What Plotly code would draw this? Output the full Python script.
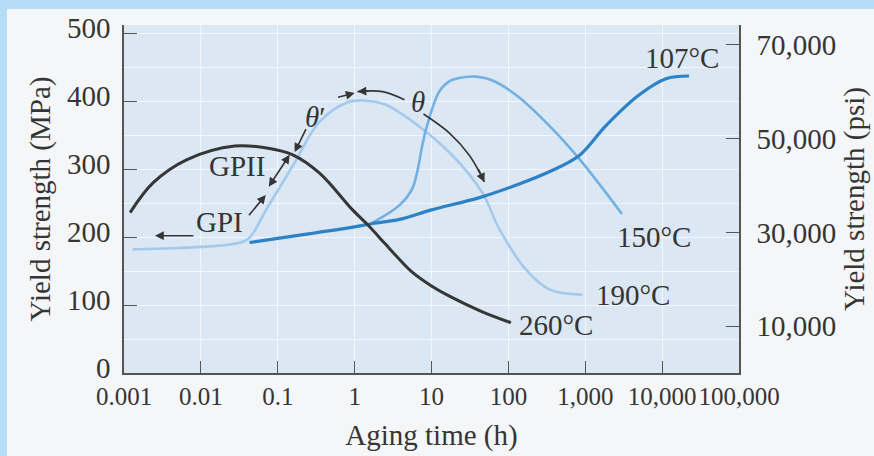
import math
import plotly.graph_objects as go

# ---------------- data ----------------
time_ticks = [0.001, 0.01, 0.1, 1, 10, 100, 1000, 10000, 100000]
time_tick_labels = ["0.001", "0.01", "0.1", "1", "10", "100", "1,000", "10,000", "100,000"]
mpa_ticks = [0, 100, 200, 300, 400, 500]
psi_ticks = [10000, 30000, 50000, 70000]
psi_tick_labels = ["10,000", "30,000", "50,000", "70,000"]
MPA_MAX = 512
PSI_PER_MPA = 145.038

# 260 °C
t_260 = [0.0012, 0.0024, 0.0066, 0.0276, 0.072, 0.157, 0.35, 0.94, 1.48, 2.5, 3.84, 5.66, 10, 17.1, 45.8, 108]
y_260 = [236, 280, 314, 334, 331, 321, 294, 240, 218, 190, 167, 148, 128, 113, 90, 74]
# 190 °C
t_190 = [0.0013, 0.005, 0.012, 0.0238, 0.041, 0.0713, 0.157, 0.351, 0.8, 1.3, 2.5, 5.66, 18.7, 46, 76, 170, 340, 913]
y_190 = [182, 184, 186, 189, 197, 241, 305, 370, 398, 401, 395, 370, 320, 265, 212, 152, 123, 115]
# 150 °C
t_150 = [1.7, 3.84, 5.66, 7.6, 8.5, 12.6, 17, 23, 38, 60, 126, 340, 837, 3000]
y_150 = [221, 247, 272, 335, 359, 414, 429, 434, 436, 431, 409, 364, 315, 234]
# 107 °C
t_107 = [0.043, 0.1, 0.3, 1, 1.71, 3.84, 10, 42, 138, 340, 837, 1860, 5000, 11200, 22400]
y_107 = [192, 198, 206, 215, 220, 226, 240, 258, 278, 296, 320, 364, 409, 433, 437]

# curve labels: (text, time, MPa)
curve_labels = [("107°C", 18200, 464), ("150°C", 7870, 200), ("190°C", 4190, 115),
                ("260°C", 420, 71), ("GPII", 0.0294, 305), ("GPI", 0.0177, 222),
                ("<i>θ</i>′", 0.31, 376), ("<i>θ</i>", 6.6, 398)]

# θ arc body
theta_arc_a_t = [1.09, 2.31, 4.45]
theta_arc_a_y = [414, 414, 402]
theta_arc_b_t = [7.87, 17.1, 31.2, 48.8]
theta_arc_b_y = [381, 353, 320, 281]

INK = "#353535"
FONT = "Liberation Serif"

fig = go.Figure()

def add_curve(t, y, color, width):
    fig.add_trace(go.Scatter(x=t, y=y, mode="lines", showlegend=False, hoverinfo="skip",
                             line=dict(color=color, width=width, shape="spline", smoothing=1.0)))

add_curve(t_190, y_190, "#a3c9ec", 2.6)
add_curve(t_150, y_150, "#72b0e2", 2.6)
add_curve(t_107, y_107, "#2d82c6", 3.2)
add_curve(t_260, y_260, "#363636", 3.0)

for tt, yy in [(theta_arc_a_t, theta_arc_a_y), (theta_arc_b_t, theta_arc_b_y)]:
    fig.add_trace(go.Scatter(x=tt, y=yy, mode="lines", showlegend=False, hoverinfo="skip",
                             line=dict(color=INK, width=1.6, shape="spline")))

# invisible trace to anchor the psi axis
fig.add_trace(go.Scatter(x=[0.001], y=[0], yaxis="y2", mode="markers", showlegend=False,
                         marker=dict(opacity=0), hoverinfo="skip"))

annotations = []
for text, t, v in curve_labels:
    annotations.append(dict(x=math.log10(t), y=v, text=text, showarrow=False,
                            font=dict(family=FONT, size=29, color=INK)))

def arrow(t_head, y_head, t_tail, y_tail, both=False):
    annotations.append(dict(x=math.log10(t_head), y=y_head, ax=math.log10(t_tail), ay=y_tail,
                            axref="x", ayref="y", xref="x", yref="y", text="", showarrow=True,
                            arrowhead=2, arrowsize=1.1, arrowwidth=1.6, arrowcolor=INK,
                            arrowside="end+start" if both else "end"))

arrow(0.00253, 202, 0.00835, 202)          # GPI -> left
arrow(0.0699, 262, 0.0407, 230)            # GPI -> curve
arrow(0.143, 321, 0.0741, 272, both=True)  # GPII
arrow(0.166, 325, 0.238, 361)              # θ' lower
arrow(1.0, 412, 0.583, 405)                # θ' upper
arrow(1.09, 414, 1.6, 415)                 # θ left head
arrow(48.8, 281, 40.0, 302)                # θ lower head

# page frame (light blue band on top and left)
W, H = 874, 456
ML, MR, MT, MB = 124, 135, 25, 83
pw, ph = W - ML - MR, H - MT - MB
x0p, x1p = -ML / pw, (W - ML) / pw
y1p = 1 + MT / ph
shapes = [
    dict(type="rect", xref="paper", yref="paper", x0=x0p, x1=x1p + 0.1, y0=y1p - 9 / ph, y1=y1p + 0.1,
         fillcolor="#b6dcf6", line=dict(width=0), layer="below"),
    dict(type="rect", xref="paper", yref="paper", x0=x0p - 0.1, x1=x0p + 7 / pw, y0=-1, y1=y1p + 0.1,
         fillcolor="#b6dcf6", line=dict(width=0), layer="below"),
]

axis_font = dict(family=FONT, size=29, color=INK)
fig.update_layout(
    width=W, height=H,
    margin=dict(l=ML, r=MR, t=MT, b=MB, pad=0, autoexpand=False),
    paper_bgcolor="#f5f6f8", plot_bgcolor="#dbe7f3",
    font=dict(family=FONT, size=29, color=INK),
    xaxis=dict(type="log", range=[-3, 5], tickvals=time_ticks, ticktext=time_tick_labels,
               tickangle=0, automargin=False,
               ticks="inside", ticklen=12, tickcolor="#555", tickwidth=1.2,
               showline=True, linecolor="#555", linewidth=1.6, mirror=False,
               showgrid=True, gridcolor="#f3f7fb", gridwidth=1, zeroline=False,
               tickfont=dict(family=FONT, size=25, color=INK), ticklabelstandoff=0,
               title=dict(text="Aging time (h)", font=axis_font, standoff=16)),
    yaxis=dict(range=[0, MPA_MAX], tickvals=mpa_ticks, ticks="inside", ticklen=13, automargin=False,
               tickcolor="#555", tickwidth=1.2, showline=True, linecolor="#555", linewidth=1.6,
               showgrid=True, gridcolor="#f3f7fb", gridwidth=1, zeroline=False,
               minor=dict(dtick=50, showgrid=True, gridcolor="#f3f7fb", gridwidth=1, ticks=""),
               tickfont=axis_font, ticklabelstandoff=6, ticklabelshift=-5,
               title=dict(text="Yield strength (MPa)", font=axis_font, standoff=8)),
    yaxis2=dict(overlaying="y", side="right", anchor="x", automargin=False,
                range=[0, MPA_MAX * PSI_PER_MPA], tickvals=psi_ticks, ticktext=psi_tick_labels,
                ticks="inside", ticklen=13, tickcolor="#555", tickwidth=1.2,
                showline=True, linecolor="#555", linewidth=1.6, showgrid=False, zeroline=False,
                tickfont=axis_font, ticklabelstandoff=10,
                title=dict(text="Yield strength (psi)", font=axis_font, standoff=8)),
    annotations=annotations,
    shapes=shapes,
    showlegend=False,
)

fig.write_html("out.html")
